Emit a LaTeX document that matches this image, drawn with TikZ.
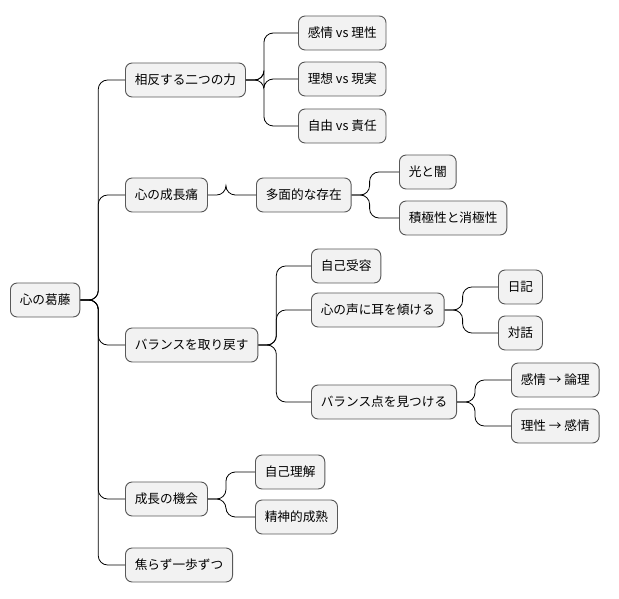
\documentclass[tikz,border=0pt]{standalone}
\usepackage{fontspec}
\setmainfont{Noto Sans CJK JP}
\begin{document}
\begin{tikzpicture}[x=0.75pt,y=-0.75pt,
    idea/.style={draw=black!65,fill=black!5,rounded corners=5pt,line width=0.7pt,
      anchor=west,minimum height=25.5pt,inner xsep=7pt,font=\fontsize{9.5}{11}\selectfont},
    branch/.style={draw=black,line width=0.6pt,rounded corners=7pt}]
    \useasboundingbox (0,0) rectangle (619,599);
    % root
    \node[idea] (root) at (10,300) {心の葛藤};
    % first level
    \node[idea] (force) at (125,80) {相反する二つの力};
    \node[idea] (pain) at (125,195) {心の成長痛};
    \node[idea] (bal) at (125,345) {バランスを取り戻す};
    \node[idea] (chance) at (125,499) {成長の機会};
    \node[idea] (step) at (125,565) {焦らず一歩ずつ};
    % second level
    \node[idea] (f1) at (298,33) {感情 vs 理性};
    \node[idea] (f2) at (298,79) {理想 vs 現実};
    \node[idea] (f3) at (298,126) {自由 vs 責任};
    \node[idea] (multi) at (256,195) {多面的な存在};
    \node[idea] (m1) at (399,172) {光と闇};
    \node[idea] (m2) at (399,218) {積極性と消極性};
    \node[idea] (b1) at (311,266) {自己受容};
    \node[idea] (b2) at (311,310) {心の声に耳を傾ける};
    \node[idea] (b21) at (498,287) {日記};
    \node[idea] (b22) at (498,333) {対話};
    \node[idea] (b3) at (311,402) {バランス点を見つける};
    \node[idea] (b31) at (511,380) {感情 → 論理};
    \node[idea] (b32) at (511,426) {理性 → 感情};
    \node[idea] (c1) at (255,472) {自己理解};
    \node[idea] (c2) at (255,517) {精神的成熟};
    % connectors
    \foreach \p/\c in {root/force,root/pain,root/bal,root/chance,root/step,
        force/f1,force/f2,force/f3,pain/multi,multi/m1,multi/m2,
        bal/b1,bal/b2,bal/b3,b2/b21,b2/b22,b3/b31,b3/b32,chance/c1,chance/c2}
      \draw[branch] (\p.east) -- ++(18,0) |- (\c.west);
\end{tikzpicture}
\end{document}
